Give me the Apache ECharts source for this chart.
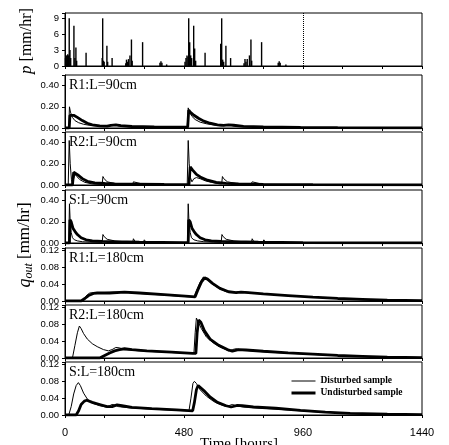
<!DOCTYPE html>
<html>
<head>
<meta charset="utf-8">
<script src="https://cdn.jsdelivr.net/npm/echarts@6/dist/echarts.min.js"></script>
<style>
html,body{margin:0;padding:0;background:#fff;}
#chart{width:449px;height:445px;}
</style>
</head>
<body>
<div id="chart"></div>
<script>
// rainfall pulses [hour, mm/hr]
var rainEvents = [
  [2,1.5],[5,2],[8,2],[11,2.2],[14,2],[17,9],[20,3],[23,1.5],[36,7.6],[40,1.5],[44,3.5],[47,1],
  [85,2.5],[150,1.5],[152,9],[155,1],[158,0.8],[169,3.8],[172,0.8],[190,1.5],
  [245,0.5],[248,1.2],[252,0.8],[256,1.3],[262,2],[268,5],[271,1],[313,4.5],
  [383,0.6],[387,0.9],[391,0.6],[410,0.3],
  [484,0.8],[488,1.5],[492,2],[496,1.8],[499,9],[503,4.5],[507,2],[511,1.5],[519,7.6],[523,3.3],[527,1],
  [565,2.5],[628,4.2],[632,9],[636,1.2],[640,0.8],[649,3.8],[668,1.5],
  [722,0.5],[726,1.3],[730,0.8],[735,1.3],[744,2],[750,5],[753,1],[793,4.5],
  [860,0.6],[864,0.9],[868,0.6],[891,0.3]
];

// outflow, L=90cm [hour, mm/hr]
var r1_90_dist = [[0,0],[15,0],[18,0.2],[22,0.15],[30,0.1],[40,0.07],[55,0.05],[75,0.035],[100,0.025],[140,0.018],[170,0.015],[185,0.025],[200,0.028],[215,0.02],[260,0.012],[350,0.008],[480,0.006],[493,0.006],[497,0.19],[502,0.15],[512,0.11],[525,0.08],[545,0.055],[570,0.04],[600,0.028],[630,0.02],[650,0.024],[665,0.028],[680,0.02],[730,0.012],[850,0.007],[1000,0.004],[1200,0.002],[1440,0.001]];
var r1_90_und = [[0,0],[17,0],[20,0.12],[25,0.13],[35,0.12],[50,0.1],[70,0.07],[90,0.045],[110,0.03],[140,0.02],[170,0.018],[185,0.025],[205,0.03],[225,0.022],[270,0.014],[360,0.01],[480,0.008],[495,0.008],[499,0.17],[505,0.15],[520,0.12],[540,0.09],[560,0.065],[585,0.045],[615,0.03],[640,0.024],[660,0.03],[680,0.026],[720,0.016],[800,0.01],[950,0.006],[1100,0.004],[1300,0.002],[1440,0.001]];

var r2_90_dist = [[0,0],[13,0],[17,0.42],[21,0.2],[26,0.05],[30,0.01],[35,0.06],[40,0.1],[48,0.08],[60,0.05],[80,0.025],[110,0.01],[150,0.005],[153,0.08],[158,0.06],[170,0.03],[200,0.015],[260,0.008],[273,0.005],[276,0.03],[282,0.012],[318,0.006],[322,0.02],[328,0.006],[400,0.004],[480,0.003],[493,0.003],[497,0.42],[501,0.2],[506,0.07],[512,0.03],[520,0.06],[530,0.07],[545,0.06],[565,0.04],[590,0.025],[620,0.012],[632,0.01],[635,0.08],[640,0.06],[655,0.03],[690,0.015],[750,0.008],[755,0.03],[762,0.012],[798,0.006],[802,0.02],[808,0.006],[1000,0.003],[1440,0.001]];
var r2_90_und = [[0,0],[30,0],[35,0.12],[42,0.11],[55,0.09],[70,0.06],[90,0.035],[120,0.02],[160,0.014],[200,0.01],[280,0.008],[400,0.005],[480,0.004],[500,0.004],[505,0.17],[515,0.14],[530,0.1],[550,0.07],[575,0.045],[610,0.025],[650,0.015],[700,0.01],[800,0.006],[1000,0.003],[1440,0.001]];

var s_90_dist = [[0,0],[15,0],[18,0.37],[21,0.2],[25,0.1],[30,0.05],[38,0.03],[50,0.02],[70,0.012],[100,0.008],[150,0.006],[153,0.08],[158,0.06],[170,0.035],[200,0.02],[250,0.01],[273,0.006],[276,0.04],[282,0.015],[316,0.008],[320,0.03],[326,0.01],[400,0.005],[480,0.003],[494,0.003],[497,0.37],[500,0.2],[505,0.1],[510,0.05],[520,0.03],[535,0.02],[560,0.012],[600,0.008],[630,0.006],[633,0.08],[638,0.06],[650,0.035],[680,0.02],[730,0.01],[752,0.006],[755,0.04],[761,0.015],[798,0.008],[802,0.03],[808,0.01],[900,0.005],[1100,0.003],[1440,0.001]];
var s_90_und = [[0,0],[18,0],[20,0.22],[25,0.2],[32,0.14],[40,0.11],[50,0.08],[65,0.05],[85,0.03],[110,0.02],[150,0.015],[200,0.012],[300,0.008],[480,0.004],[497,0.004],[499,0.22],[505,0.2],[512,0.14],[520,0.11],[530,0.08],[545,0.05],[565,0.03],[590,0.02],[630,0.015],[680,0.012],[780,0.008],[960,0.004],[1440,0.001]];

// outflow, L=180cm
var r1_180_dist = [[0,0],[72,0],[80,0.008],[90,0.015],[100,0.019],[115,0.02],[150,0.02],[200,0.021],[250,0.02],[300,0.018],[400,0.014],[500,0.01],[520,0.01],[530,0.025],[545,0.045],[558,0.057],[570,0.053],[590,0.042],[620,0.03],[650,0.022],[680,0.02],[700,0.022],[730,0.021],[800,0.017],[900,0.013],[1000,0.009],[1100,0.006],[1200,0.003],[1300,0.002],[1440,0.001]];
var r1_180_und = [[0,0],[65,0],[80,0.006],[95,0.013],[115,0.018],[130,0.019],[180,0.019],[240,0.021],[300,0.019],[400,0.015],[500,0.011],[525,0.01],[535,0.025],[550,0.045],[563,0.055],[575,0.052],[595,0.042],[625,0.03],[660,0.022],[690,0.02],[710,0.021],[740,0.02],[800,0.017],[900,0.013],[1000,0.009],[1100,0.006],[1200,0.004],[1300,0.002],[1440,0.001]];

var r2_180_dist = [[0,0],[30,0],[40,0.03],[50,0.06],[58,0.076],[65,0.07],[75,0.058],[90,0.045],[110,0.034],[130,0.027],[155,0.02],[175,0.017],[190,0.02],[205,0.025],[220,0.024],[240,0.02],[300,0.017],[400,0.014],[500,0.011],[520,0.011],[525,0.06],[530,0.095],[538,0.092],[550,0.07],[570,0.05],[600,0.035],[630,0.025],[660,0.017],[675,0.02],[690,0.022],[705,0.02],[750,0.017],[850,0.013],[950,0.01],[1050,0.007],[1150,0.005],[1250,0.003],[1440,0.001]];
var r2_180_und = [[0,0],[140,0],[160,0.006],[180,0.012],[200,0.017],[220,0.02],[240,0.022],[270,0.02],[330,0.017],[430,0.014],[515,0.011],[528,0.011],[533,0.06],[539,0.09],[548,0.085],[562,0.065],[585,0.045],[620,0.03],[655,0.02],[675,0.016],[700,0.02],[730,0.019],[800,0.016],[900,0.012],[1000,0.009],[1100,0.006],[1200,0.004],[1300,0.002],[1440,0.001]];

var s_180_dist = [[0,0],[15,0],[25,0.02],[35,0.05],[45,0.07],[54,0.077],[62,0.07],[75,0.052],[90,0.038],[110,0.028],[140,0.022],[165,0.019],[180,0.022],[190,0.025],[200,0.024],[215,0.02],[260,0.017],[350,0.014],[450,0.011],[500,0.01],[508,0.04],[516,0.075],[522,0.08],[530,0.075],[545,0.06],[570,0.045],[600,0.032],[630,0.024],[650,0.02],[665,0.023],[675,0.025],[690,0.022],[720,0.019],[800,0.016],[900,0.012],[1000,0.008],[1100,0.005],[1250,0.002],[1440,0.001]];
var s_180_und = [[0,0],[45,0],[55,0.01],[65,0.025],[78,0.033],[88,0.035],[110,0.03],[140,0.025],[170,0.02],[190,0.02],[210,0.024],[230,0.022],[270,0.018],[350,0.015],[450,0.012],[515,0.01],[522,0.03],[530,0.06],[537,0.07],[545,0.068],[560,0.058],[585,0.043],[615,0.03],[650,0.022],[670,0.019],[695,0.023],[715,0.022],[760,0.019],[850,0.016],[950,0.011],[1050,0.007],[1150,0.004],[1300,0.002],[1440,0.001]];

var panelNames = ['', 'R1:L=90cm', 'R2:L=90cm', 'S:L=90cm', 'R1:L=180cm', 'R2:L=180cm', 'S:L=180cm'];
var panelDist = [null, r1_90_dist, r2_90_dist, s_90_dist, r1_180_dist, r2_180_dist, s_180_dist];
var panelUnd = [null, r1_90_und, r2_90_und, s_90_und, r1_180_und, r2_180_und, s_180_und];
var timeTicks = [0, 480, 960, 1440];

var tops = [13, 75, 132, 190, 248, 305, 362];
var panelH = 53;
var sans = 'Liberation Sans';
var serif = 'Liberation Serif';

var grids = [], xAxes = [], yAxes = [], series = [], titles = [];

for (var i = 0; i < 7; i++) {
  var last = (i == 6);
  grids.push({left: 65, width: 357, top: tops[i], height: panelH, show: true,
    borderColor: '#000', borderWidth: 1});
  xAxes.push({type: 'value', gridIndex: i, min: 0, max: 1440, interval: 160,
    axisLine: {lineStyle: {color: '#000', width: 1}},
    axisTick: {show: true, length: 3, lineStyle: {color: '#000'}},
    splitLine: {show: false},
    axisLabel: {show: last, margin: 12, color: '#000', fontFamily: sans, fontSize: 11,
      formatter: function (v) { return timeTicks.indexOf(v) >= 0 ? String(v) : ''; }}
  });
  var ymin = 0, ymax, yint, fmt;
  if (i == 0) {
    ymax = 10; yint = 3;
    fmt = function (v) { return v > 9.5 ? '' : String(v); };
  } else if (i <= 3) {
    ymax = 0.5; yint = 0.2;
    fmt = function (v) { return v > 0.45 ? '' : v.toFixed(2); };
  } else {
    ymax = 0.126; yint = 0.04;
    fmt = function (v) { return v > 0.121 ? '' : v.toFixed(2); };
  }
  yAxes.push({type: 'value', gridIndex: i, min: ymin, max: ymax, interval: yint,
    axisLine: {show: true, lineStyle: {color: '#000', width: 1}},
    axisTick: {show: true, length: 3, lineStyle: {color: '#000'}},
    splitLine: {show: false},
    axisLabel: {margin: 6, color: '#000', fontFamily: sans, fontSize: 9.5, formatter: fmt}
  });
  if (i > 0) {
    titles.push({text: panelNames[i], left: 69, top: tops[i] + 3, padding: 0,
      textStyle: {fontFamily: serif, fontSize: 14, fontWeight: 'normal', color: '#000'}});
    series.push({name: 'Disturbed sample', type: 'line', xAxisIndex: i, yAxisIndex: i,
      data: panelDist[i], symbol: 'none', lineStyle: {color: '#000', width: 1}, itemStyle: {color: '#000'}});
    series.push({name: 'Undisturbed sample', type: 'line', xAxisIndex: i, yAxisIndex: i,
      data: panelUnd[i], symbol: 'none', lineStyle: {color: '#000', width: 2.8}, itemStyle: {color: '#000'}});
  }
}

series.unshift({name: 'rain', type: 'bar', xAxisIndex: 0, yAxisIndex: 0, data: rainEvents,
  barWidth: 1.4, itemStyle: {color: '#000'},
  markLine: {silent: true, symbol: 'none', label: {show: false},
    lineStyle: {color: '#000', type: 'dotted', width: 1}, data: [{xAxis: 960}]}
});

var chart = echarts.init(document.getElementById('chart'), null, {renderer: 'canvas'});
chart.setOption({
  animation: false,
  backgroundColor: '#fff',
  title: titles,
  grid: grids,
  xAxis: xAxes,
  yAxis: yAxes,
  legend: {
    data: [
      {name: 'Disturbed sample', lineStyle: {width: 1}},
      {name: 'Undisturbed sample', lineStyle: {width: 3}}
    ],
    orient: 'vertical',
    left: 290, top: 376, itemWidth: 24, itemHeight: 10, itemGap: 2, padding: 0,
    itemStyle: {opacity: 0},
    textStyle: {fontFamily: serif, fontSize: 9.5, fontWeight: 'bold', color: '#000'}},
  graphic: [
    {type: 'text', x: 27, y: 41, rotation: Math.PI / 2,
      style: {text: '{i|p} [mm/hr]', textAlign: 'center', textVerticalAlign: 'middle',
        font: '16px "Liberation Serif"', fill: '#000',
        rich: {i: {fontFamily: serif, fontSize: 17, fontStyle: 'italic'}}}},
    {type: 'text', x: 25, y: 245, rotation: Math.PI / 2,
      style: {text: '{q|q}{s|out} [mm/hr]', textAlign: 'center', textVerticalAlign: 'middle',
        font: '17px "Liberation Serif"', fill: '#000',
        rich: {q: {fontFamily: serif, fontSize: 18, fontStyle: 'italic'},
               s: {fontFamily: serif, fontSize: 12, fontStyle: 'italic', padding: [7, 0, 0, 0]}}}},
    {type: 'text', x: 239, y: 437,
      style: {text: 'Time [hours]', textAlign: 'center', textVerticalAlign: 'top',
        font: '15px "Liberation Serif"', fill: '#000'}}
  ],
  series: series
});
</script>
</body>
</html>
